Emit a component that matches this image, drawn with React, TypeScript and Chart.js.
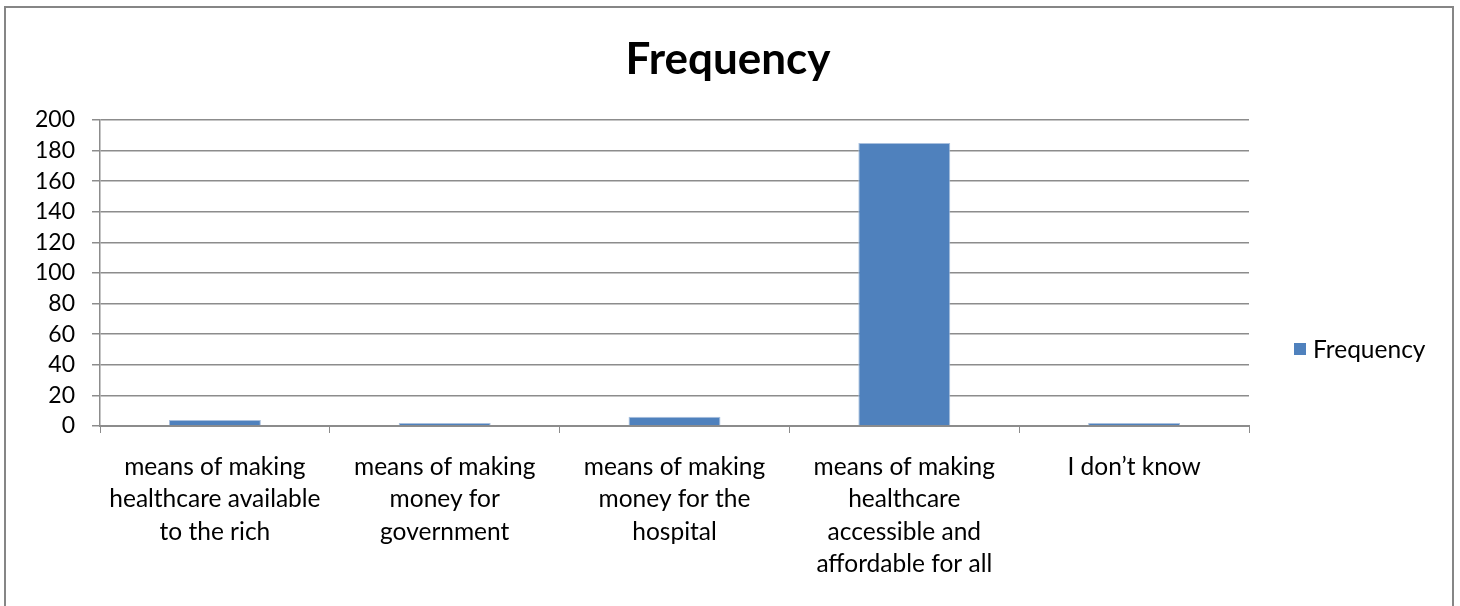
import React, { useEffect, useRef } from "react";
import { Chart, registerables } from "chart.js";

Chart.register(...registerables);

const categories: string[][] = [
  ["means of making", "healthcare available", "to the rich"],
  ["means of making", "money for", "government"],
  ["means of making", "money for the", "hospital"],
  ["means of making", "healthcare", "accessible and", "affordable for all"],
  ["I don\u2019t know"],
];
const frequency: number[] = [4, 2, 6, 185, 2];
const seriesName = "Frequency";
const chartTitle = "Frequency";
const yMin = 0;
const yMax = 200;
const yStep = 20;

const FONT = "Lato, 'Open Sans', sans-serif";
const BAR = "#4F81BD";
const GRID = "#8c8c8c";

const framePlugin = {
  id: "frame",
  beforeDraw(chart: any) {
    const { ctx, width, height } = chart;
    ctx.save();
    ctx.fillStyle = "#ffffff";
    ctx.fillRect(0, 0, width, height);
    ctx.strokeStyle = "#868686";
    ctx.lineWidth = 2;
    ctx.strokeRect(5, 7, width - 12, height + 50);
    ctx.restore();
  },
};

const titlePlugin = {
  id: "centeredTitle",
  afterDraw(chart: any) {
    const { ctx, width } = chart;
    ctx.save();
    ctx.fillStyle = "#000";
    ctx.font = `bold 44px ${FONT}`;
    ctx.textAlign = "center";
    ctx.textBaseline = "middle";
    ctx.fillText(chartTitle, width / 2 - 2, 60);
    ctx.restore();
  },
};

const legendPlugin = {
  id: "sideLegend",
  afterDraw(chart: any) {
    const { ctx, chartArea } = chart;
    const x = chartArea.right + 45;
    const y = 349;
    ctx.save();
    ctx.fillStyle = BAR;
    ctx.fillRect(x, y - 6, 12, 12);
    ctx.fillStyle = "#000";
    ctx.font = `24.5px ${FONT}`;
    ctx.textBaseline = "middle";
    ctx.textAlign = "left";
    ctx.fillText(seriesName, x + 19, y + 1);
    ctx.restore();
  },
};

export default function App() {
  const ref = useRef<HTMLCanvasElement | null>(null);
  useEffect(() => {
    if (!ref.current) return;
    const chart = new Chart(ref.current, {
      type: "bar",
      data: {
        labels: categories,
        datasets: [
          {
            label: seriesName,
            data: frequency,
            backgroundColor: BAR,
            borderColor: "#a9c0de",
            borderWidth: 1,
            barPercentage: 0.4,
            categoryPercentage: 1,
          },
        ],
      },
      options: {
        responsive: false,
        animation: false,
        layout: { padding: { left: 0, right: 211, top: 120, bottom: 0 } },
        plugins: {
          legend: { display: false },
          tooltip: { enabled: false },
          title: { display: false },
        },
        scales: {
          x: {
            afterFit(scale: any) {
              scale.height = 180;
            },
            grid: {
              offset: true,
              drawOnChartArea: false,
              drawTicks: true,
              tickLength: 7,
              color: GRID,
            },
            border: { color: GRID, width: 2 },
            ticks: {
              color: "#000",
              autoSkip: false,
              maxRotation: 0,
              minRotation: 0,
              padding: 18,
              font: { family: FONT, size: 24.5, lineHeight: 1.32 },
            },
          },
          y: {
            min: yMin,
            max: yMax,
            afterFit(scale: any) {
              scale.width = 100;
            },
            grid: { color: GRID, tickLength: 8, lineWidth: 1.5 },
            border: { color: GRID, width: 1.5 },
            ticks: {
              stepSize: yStep,
              color: "#000",
              padding: 17,
              font: { family: FONT, size: 23 },
            },
          },
        },
      },
      plugins: [framePlugin, titlePlugin, legendPlugin],
    });
    return () => chart.destroy();
  }, []);
  return (
    <div style={{ position: "fixed", left: 0, top: 0, width: 1460, height: 606 }}>
      <canvas ref={ref} width={1460} height={606} />
    </div>
  );
}
